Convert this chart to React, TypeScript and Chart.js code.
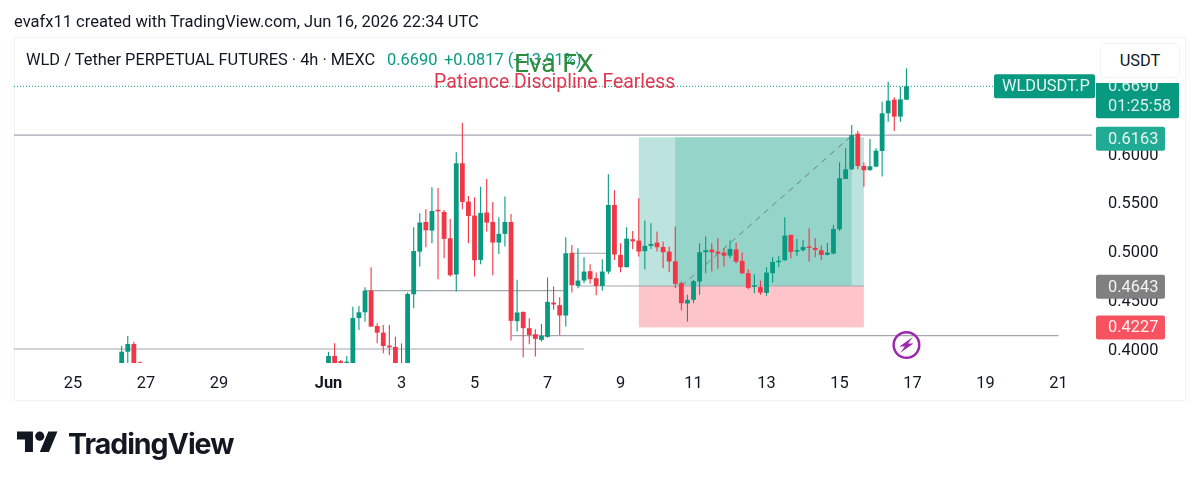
import React, { useEffect, useRef } from "react";
import { Chart, registerables } from "chart.js";

Chart.register(...registerables);

const barIndex = [8, 9, 10, 11, 42, 43, 44, 45, 46, 47, 48, 49, 50, 51, 52, 53, 54, 55, 56, 57, 58, 59, 60, 61, 62, 63, 64, 65, 66, 67, 68, 69, 70, 71, 72, 73, 74, 75, 76, 77, 78, 79, 80, 81, 82, 83, 84, 85, 86, 87, 88, 89, 90, 91, 92, 93, 94, 95, 96, 97, 98, 99, 100, 101, 102, 103, 104, 105, 106, 107, 108, 109, 110, 111, 112, 113, 114, 115, 116, 117, 118, 119, 120, 121, 122, 123, 124, 125, 126, 127, 128, 129, 130, 131, 132, 133, 134, 135, 136, 137];

const opens = [0.3840, 0.3977, 0.4056, 0.3868, 0.3840, 0.3933, 0.3880, 0.3840,
  0.3850, 0.4323, 0.4382, 0.4604, 0.4241, 0.4173, 0.4040, 0.4026, 0.3780, 0.3807,
  0.4567, 0.5005, 0.5309, 0.5221, 0.5429, 0.5412, 0.5142, 0.4770, 0.5912, 0.5518,
  0.5375, 0.4920, 0.5406, 0.5309, 0.5098, 0.5187, 0.5309, 0.4291, 0.4386, 0.4219,
  0.4157, 0.4099, 0.4130, 0.4482, 0.4455, 0.4349, 0.4992, 0.4653, 0.4708, 0.4804,
  0.4732, 0.4653, 0.4800, 0.5484, 0.4971, 0.4845, 0.5132, 0.5118, 0.5009, 0.5064,
  0.5098, 0.5053, 0.5005, 0.4906, 0.4681, 0.4472, 0.4510, 0.4698, 0.4999, 0.5026,
  0.5005, 0.4995, 0.4964, 0.5026, 0.4910, 0.4783, 0.4643, 0.4640, 0.4581, 0.4783,
  0.4896, 0.4917, 0.5177, 0.5005, 0.5019, 0.5057, 0.5043, 0.5019, 0.4971, 0.4985,
  0.5235, 0.5751, 0.5850, 0.6216, 0.5884, 0.5843, 0.5878, 0.6038, 0.6425, 0.6565,
  0.6391, 0.6565];

const highs = [0.4036, 0.4139, 0.4080, 0.3878, 0.3977, 0.4064, 0.3892, 0.3933,
  0.4440, 0.4447, 0.4638, 0.4844, 0.4269, 0.4252, 0.4252, 0.4132, 0.4063, 0.4584,
  0.5254, 0.5398, 0.5440, 0.5665, 0.5659, 0.5433, 0.5341, 0.6025, 0.6329, 0.5577,
  0.5563, 0.5672, 0.5751, 0.5515, 0.5358, 0.5570, 0.5392, 0.4715, 0.4390, 0.4322,
  0.4209, 0.4263, 0.4739, 0.4646, 0.4537, 0.5153, 0.5074, 0.5040, 0.4947, 0.4875,
  0.4790, 0.4927, 0.5799, 0.5635, 0.5091, 0.5255, 0.5217, 0.5553, 0.5324, 0.5296,
  0.5211, 0.5108, 0.5057, 0.5262, 0.4698, 0.4561, 0.4715, 0.5091, 0.5159, 0.5091,
  0.5142, 0.5040, 0.5118, 0.5098, 0.4995, 0.4824, 0.4773, 0.4708, 0.4845, 0.4947,
  0.4961, 0.5358, 0.5177, 0.5135, 0.5125, 0.5245, 0.5142, 0.5067, 0.5094, 0.5279,
  0.5922, 0.6066, 0.6305, 0.6247, 0.5919, 0.6161, 0.6066, 0.6544, 0.6750, 0.6589,
  0.6698, 0.6887];

const lows = [0.3820, 0.3850, 0.3820, 0.3780, 0.3820, 0.3810, 0.3800, 0.3820,
  0.3840, 0.4200, 0.4286, 0.4235, 0.4063, 0.3961, 0.3944, 0.3790, 0.3760, 0.3755,
  0.4423, 0.4851, 0.5050, 0.5091, 0.4721, 0.4937, 0.4749, 0.4595, 0.5440, 0.5091,
  0.4749, 0.4875, 0.5211, 0.4763, 0.4981, 0.5057, 0.4092, 0.4185, 0.3921, 0.4055,
  0.3928, 0.4082, 0.4123, 0.4407, 0.4150, 0.4236, 0.4585, 0.4629, 0.4681, 0.4674,
  0.4557, 0.4602, 0.4776, 0.4920, 0.4793, 0.4841, 0.5029, 0.4954, 0.4824, 0.5033,
  0.5005, 0.4834, 0.4793, 0.4629, 0.4400, 0.4287, 0.4475, 0.4561, 0.4783, 0.4800,
  0.4828, 0.4852, 0.4937, 0.4886, 0.4776, 0.4619, 0.4578, 0.4561, 0.4551, 0.4687,
  0.4845, 0.4910, 0.4937, 0.4961, 0.5005, 0.4903, 0.4947, 0.4920, 0.4964, 0.4978,
  0.5218, 0.5748, 0.5843, 0.5850, 0.5672, 0.5833, 0.5871, 0.5775, 0.6339, 0.6244,
  0.6339, 0.6562];

const closes = [0.3977, 0.4056, 0.3840, 0.3800, 0.3933, 0.3840, 0.3820, 0.3875,
  0.4323, 0.4382, 0.4604, 0.4235, 0.4173, 0.4036, 0.4022, 0.3824, 0.3840, 0.4570,
  0.5011, 0.5303, 0.5224, 0.5422, 0.5419, 0.5136, 0.4763, 0.5912, 0.5515, 0.5371,
  0.4917, 0.5402, 0.5303, 0.5098, 0.5187, 0.5309, 0.4294, 0.4380, 0.4219, 0.4150,
  0.4109, 0.4140, 0.4489, 0.4462, 0.4349, 0.4988, 0.4660, 0.4708, 0.4800, 0.4722,
  0.4653, 0.4800, 0.5484, 0.4975, 0.4845, 0.5139, 0.5111, 0.5005, 0.5064, 0.5084,
  0.5050, 0.4999, 0.4903, 0.4674, 0.4475, 0.4510, 0.4701, 0.4999, 0.5019, 0.4999,
  0.4985, 0.4964, 0.5033, 0.4903, 0.4783, 0.4633, 0.4653, 0.4585, 0.4790, 0.4899,
  0.4910, 0.5170, 0.5002, 0.5019, 0.5053, 0.5043, 0.5022, 0.4971, 0.4995, 0.5238,
  0.5758, 0.5850, 0.6202, 0.5884, 0.5840, 0.5881, 0.6042, 0.6425, 0.6555, 0.6391,
  0.6568, 0.6702];

const timeTickBars = [0, 12, 24, 42, 54, 66, 78, 90, 102, 114, 126, 138, 150, 162];
const timeTickLabels = ["25", "27", "29", "Jun", "3", "5", "7", "9", "11", "13", "15", "17", "19", "21"];
const monthTickBar = 42;
const priceTicks = [0.4, 0.45, 0.5, 0.55, 0.6];

const X_MIN = -9.7;
const X_MAX = 167.5;
const Y_MIN = 0.38614;
const Y_MAX = 0.71982;

// [startBar, endBar, price]
const levelLines = [
  [X_MIN, X_MAX, 0.6202],
  [X_MIN, 84, 0.4005],
  [72.1, 162, 0.4142],
  [48, 81, 0.4604],
  [82, 88, 0.4988],
  [83, 130, 0.4652],
];
const lastPriceLine = [X_MIN, 151.4, 0.6702];
const tradePath = [[100, 0.4652], [127.7, 0.6179]];

const positionBars = [93, 130];
const profitBars = [99, 128];
const positionPrices = { target: 0.6179, entry: 0.4652, stop: 0.4227 };

const eventBar = 137;
const eventPrice = 0.4046;

const UP = "#089981";
const DOWN = "#F23645";
const FONT = "Roboto, sans-serif";
const SIZE = 16.4;

const priceTags = [
  { price: 0.6163, text: "0.6163", color: "#22ab94" },
  { price: 0.4643, text: "0.4643", color: "#808080" },
  { price: 0.4227, text: "0.4227", color: "#f7525f" },
];

const overlayPlugin = {
  id: "overlay",
  beforeDatasetsDraw(chart: any) {
    const { ctx, scales: { x, y } } = chart;
    const l = x.getPixelForValue(positionBars[0]);
    const r = x.getPixelForValue(positionBars[1]);
    const top = y.getPixelForValue(positionPrices.target);
    const mid = y.getPixelForValue(positionPrices.entry);
    const bot = y.getPixelForValue(positionPrices.stop);
    const pl = x.getPixelForValue(profitBars[0]);
    const pr = x.getPixelForValue(profitBars[1]);
    ctx.save();
    ctx.fillStyle = "rgba(8,153,129,0.27)";
    ctx.fillRect(l, top, r - l, mid - top);
    ctx.fillStyle = "rgba(8,153,129,0.22)";
    ctx.fillRect(pl, top, pr - pl, mid - top);
    ctx.fillStyle = "rgba(249,60,80,0.3)";
    ctx.fillRect(l, mid, r - l, bot - mid);
    ctx.restore();
  },
  afterDraw(chart: any) {
    const { ctx, scales: { x, y } } = chart;
    ctx.save();
    const axisLeft = 1096;
    ctx.textBaseline = "middle";
    ctx.font = `${SIZE}px ${FONT}`;
    // last price + countdown
    const yLast = y.getPixelForValue(lastPriceLine[2]);
    ctx.fillStyle = UP;
    ctx.beginPath();
    ctx.roundRect(axisLeft, yLast - 12, 83, 44, 2);
    ctx.fill();
    ctx.fillStyle = "rgba(255,255,255,0.85)";
    ctx.textAlign = "left";
    ctx.fillText("0.6690", 1108, yLast + 1);
    ctx.fillText("01:25:58", 1108, yLast + 21);
    // symbol tag
    ctx.fillStyle = UP;
    ctx.beginPath();
    ctx.roundRect(994, yLast - 12, 101, 24, 2);
    ctx.fill();
    ctx.fillStyle = "rgba(255,255,255,0.9)";
    ctx.fillText("WLDUSDT.P", 1002, yLast + 1);
    // price tags
    for (const t of priceTags) {
      const py = y.getPixelForValue(t.price);
      ctx.fillStyle = t.color;
      ctx.beginPath();
      ctx.roundRect(axisLeft, py - 12, 69, 24, 2);
      ctx.fill();
      ctx.fillStyle = "rgba(255,255,255,0.9)";
      ctx.fillText(t.text, 1108, py + 1);
    }
    // event marker
    const ex = x.getPixelForValue(eventBar);
    const ey = y.getPixelForValue(eventPrice);
    ctx.strokeStyle = "#9c27b0";
    ctx.lineWidth = 2.5;
    ctx.beginPath();
    ctx.arc(ex, ey, 12.8, 0, Math.PI * 2);
    ctx.stroke();
    ctx.fillStyle = "#9c27b0";
    ctx.beginPath();
    ctx.moveTo(ex + 6.5, ey - 8);
    ctx.lineTo(ex - 7, ey + 1.5);
    ctx.lineTo(ex - 1.5, ey + 1.5);
    ctx.lineTo(ex - 6.5, ey + 8);
    ctx.lineTo(ex + 7, ey - 1.5);
    ctx.lineTo(ex + 1.5, ey - 1.5);
    ctx.closePath();
    ctx.fill();
    ctx.restore();
  },
};

const abs = (left: number, top: number, extra: React.CSSProperties = {}): React.CSSProperties => ({
  position: "absolute",
  left,
  top,
  whiteSpace: "nowrap",
  fontFamily: FONT,
  ...extra,
});

export default function App() {
  const ref = useRef<HTMLCanvasElement>(null);

  useEffect(() => {
    const colors = barIndex.map((_, i) => (closes[i] >= opens[i] ? UP : DOWN));
    const lineBase = { type: "line", pointRadius: 0, borderWidth: 1.2, borderColor: "#a3a6af", order: 5, parsing: true };
    const chart = new Chart(ref.current as HTMLCanvasElement, {
      type: "bar",
      data: {
        datasets: [
          ...levelLines.map((l) => ({
            ...lineBase,
            data: [{ x: l[0], y: l[2] }, { x: l[1], y: l[2] }],
          })),
          {
            ...lineBase,
            borderColor: UP,
            borderWidth: 1,
            borderDash: [1, 2],
            data: [{ x: lastPriceLine[0], y: lastPriceLine[2] }, { x: lastPriceLine[1], y: lastPriceLine[2] }],
          },
          {
            ...lineBase,
            borderColor: "#6f7f80",
            borderWidth: 1,
            borderDash: [6, 5],
            order: 4,
            data: tradePath.map((p) => ({ x: p[0], y: p[1] })),
          },
          {
            type: "bar",
            order: 2,
            grouped: false,
            barThickness: 1.1,
            inflateAmount: 0,
            backgroundColor: colors,
            data: barIndex.map((b, i) => ({ x: b, y: [lows[i], highs[i]] })),
          },
          {
            type: "bar",
            order: 1,
            grouped: false,
            barThickness: 4.8,
            inflateAmount: 0,
            minBarLength: 1.5,
            backgroundColor: colors,
            data: barIndex.map((b, i) => ({ x: b, y: [opens[i], closes[i]] })),
          },
        ] as any,
      },
      options: {
        responsive: false,
        animation: false,
        devicePixelRatio: 1,
        layout: { padding: { left: 14, right: 14, top: 38, bottom: 82 } },
        plugins: { legend: { display: false }, tooltip: { enabled: false } },
        scales: {
          x: {
            type: "linear",
            offset: false,
            min: X_MIN,
            max: X_MAX,
            grid: { display: false },
            border: { display: false },
            afterBuildTicks: (s: any) => {
              s.ticks = timeTickBars.map((value) => ({ value }));
            },
            afterFit: (s: any) => {
              s.height = 39;
            },
            ticks: {
              autoSkip: false,
              maxRotation: 0,
              padding: 3,
              color: "#131722",
              font: (c: any) => ({
                family: FONT,
                size: SIZE,
                weight: c.tick && c.tick.value === monthTickBar ? "700" : "400",
              }),
              callback: (v: any) => {
                const i = timeTickBars.indexOf(v);
                return i >= 0 ? timeTickLabels[i] : "";
              },
            },
          },
          y: {
            type: "linear",
            position: "right",
            min: Y_MIN,
            max: Y_MAX,
            grid: { display: false },
            border: { display: false },
            afterBuildTicks: (s: any) => {
              s.ticks = priceTicks.map((value) => ({ value }));
            },
            afterFit: (s: any) => {
              s.width = 94;
            },
            ticks: {
              crossAlign: "near",
              padding: 8,
              labelOffset: 1,
              color: "#131722",
              font: { family: FONT, size: SIZE },
              callback: (v: any) => Number(v).toFixed(4),
            },
          },
        },
      } as any,
      plugins: [overlayPlugin],
    } as any);
    return () => chart.destroy();
  }, []);

  return (
    <div style={{ position: "absolute", left: 0, top: 0, width: 1200, height: 484, overflow: "hidden", background: "#fff" }}>
      <div style={{ position: "absolute", left: 14, top: 37, width: 1172, height: 364, boxSizing: "border-box", border: "1px solid #f0f3fa" }} />
      <canvas ref={ref} width={1200} height={484} style={{ position: "absolute", left: 0, top: 0, width: 1200, height: 484 }} />
      <div style={abs(14, 12, { fontSize: 16.5, color: "#131722" })}>evafx11 created with TradingView.com, Jun 16, 2026 22:34 UTC</div>
      <div style={abs(26, 50, { fontSize: SIZE, color: "#131722" })}>WLD / Tether PERPETUAL FUTURES · 4h · MEXC</div>
      <div style={abs(387, 50, { fontSize: SIZE, color: UP })}>0.6690</div>
      <div style={abs(444, 50, { fontSize: SIZE, color: UP })}>+0.0817 (+13.91%)</div>
      <div style={abs(514, 47, { fontSize: 26.5, fontWeight: 400, color: "#2e8b3d" })}>Eva FX</div>
      <div style={abs(434, 70, { fontSize: 19.4, color: "#e0364f" })}>Patience Discipline Fearless</div>
      <div style={{ position: "absolute", left: 1096, top: 74, width: 86, height: 9, background: "#fff" }} />
      <div style={abs(1100, 43, { width: 80, height: 35, boxSizing: "border-box", border: "1px solid #f0f3fa", borderRadius: 5, background: "#fff", fontSize: SIZE, color: "#131722", textAlign: "center", lineHeight: "33px" })}>USDT</div>
      <svg viewBox="0 0 36 28" width={41} height={32} style={{ position: "absolute", left: 17, top: 426.5 }}>
        <path d="M14 22H7V11H0V4h14v18zM28 22h-8l7.5-18h8L28 22z" fill="#131722" />
        <circle cx={20} cy={8} r={4} fill="#131722" />
      </svg>
      <div style={abs(68, 426, { fontSize: 28.5, fontWeight: 700, fontFamily: "Inter, sans-serif", color: "#131722", letterSpacing: -1 })}>TradingView</div>
    </div>
  );
}
